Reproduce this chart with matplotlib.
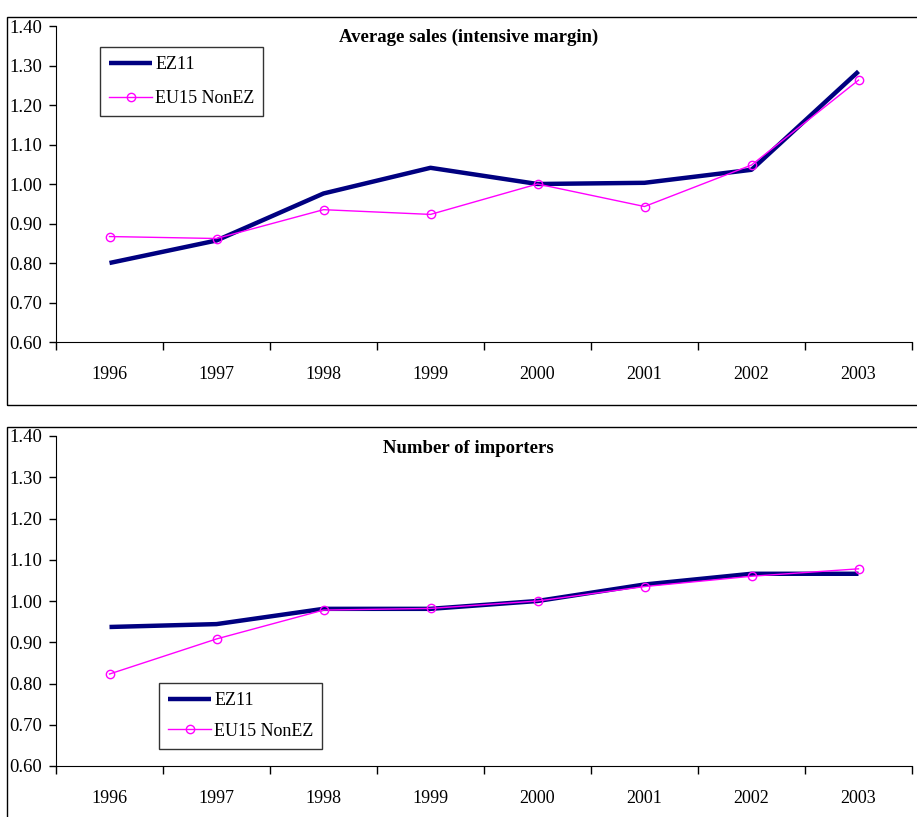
import numpy as np
import matplotlib.pyplot as plt
from matplotlib.patches import Rectangle

plt.rcParams['font.family'] = ['Liberation Serif', 'DejaVu Serif']

years = ['1996', '1997', '1998', '1999', '2000', '2001', '2002', '2003']

# Average sales (intensive margin)
sales_ez11 = [0.800, 0.857, 0.976, 1.041, 1.000, 1.003, 1.036, 1.285]
sales_eu15 = [0.867, 0.862, 0.935, 0.923, 1.000, 0.943, 1.048, 1.263]

# Number of importers
imp_ez11 = [0.937, 0.944, 0.981, 0.981, 1.000, 1.040, 1.066, 1.066]
imp_eu15 = [0.823, 0.908, 0.978, 0.982, 1.000, 1.035, 1.060, 1.078]

W, H = 917, 817
fig = plt.figure(figsize=(W / 100, H / 100), dpi=100)


def panel(rect, ez, eu, title, title_y, leg_loc, spacing):
    ax = fig.add_axes(rect)
    x = np.arange(len(years))
    ax.plot(x, ez, color='#000080', lw=3.2, label='EZ11', solid_capstyle='butt')
    ax.plot(x, eu, color='#ff00ff', lw=1.0, marker='o', ms=6,
            mfc='none', mec='#ff00ff', mew=1.0, label='EU15 NonEZ')
    ax.set_xlim(-0.5, len(years) - 0.5)
    ax.set_ylim(0.6, 1.4)
    ax.set_yticks(np.arange(0.6, 1.41, 0.1))
    ax.set_yticklabels(['%.2f' % v for v in np.arange(0.6, 1.41, 0.1)], fontsize=13.5)
    # category boundaries as ticks, names between them
    ax.set_xticks(np.arange(-0.5, len(years), 1.0))
    ax.set_xticklabels([])
    ax.set_xticks(x, minor=True)
    ax.set_xticklabels(years, minor=True, fontsize=13)
    ax.tick_params(axis='x', which='major', direction='out', length=6, width=1)
    ax.tick_params(axis='x', which='minor', length=0, pad=17)
    ax.tick_params(axis='y', direction='out', length=5, width=1, pad=5)
    ax.spines['top'].set_visible(False)
    ax.spines['right'].set_visible(False)
    ax.text(0.482, title_y, title, transform=ax.transAxes, ha='center', va='center',
            fontsize=13.5, fontweight='bold')
    leg = ax.legend(loc='upper left', bbox_to_anchor=leg_loc, fontsize=13,
                    frameon=True, fancybox=False, edgecolor='black',
                    handlelength=2.4, borderpad=0.5, labelspacing=spacing,
                    handletextpad=0.15, borderaxespad=0)
    leg.get_frame().set_linewidth(1.0)
    return ax


panel([56 / W, 1 - 342 / H, (912 - 56) / W, (342 - 26) / H],
      sales_ez11, sales_eu15, 'Average sales (intensive margin)', 0.963,
      ((100 - 56) / (912 - 56), 1 - (47 - 26) / (342 - 26)), 0.95)
panel([56 / W, 1 - 766 / H, (912 - 56) / W, (766 - 436) / H],
      imp_ez11, imp_eu15, 'Number of importers', 0.962,
      ((159 - 56) / (912 - 56), 1 - (683 - 436) / (766 - 436)), 0.75)

# frames around each chart
fig.add_artist(Rectangle((7 / W, 1 - 405 / H), (920 - 7) / W, (405 - 17) / H,
                         transform=fig.transFigure, fill=False, lw=1, ec='black'))
fig.add_artist(Rectangle((7 / W, 1 - 830 / H), (920 - 7) / W, (830 - 427) / H,
                         transform=fig.transFigure, fill=False, lw=1, ec='black'))

fig.savefig('out.png', dpi=100)
